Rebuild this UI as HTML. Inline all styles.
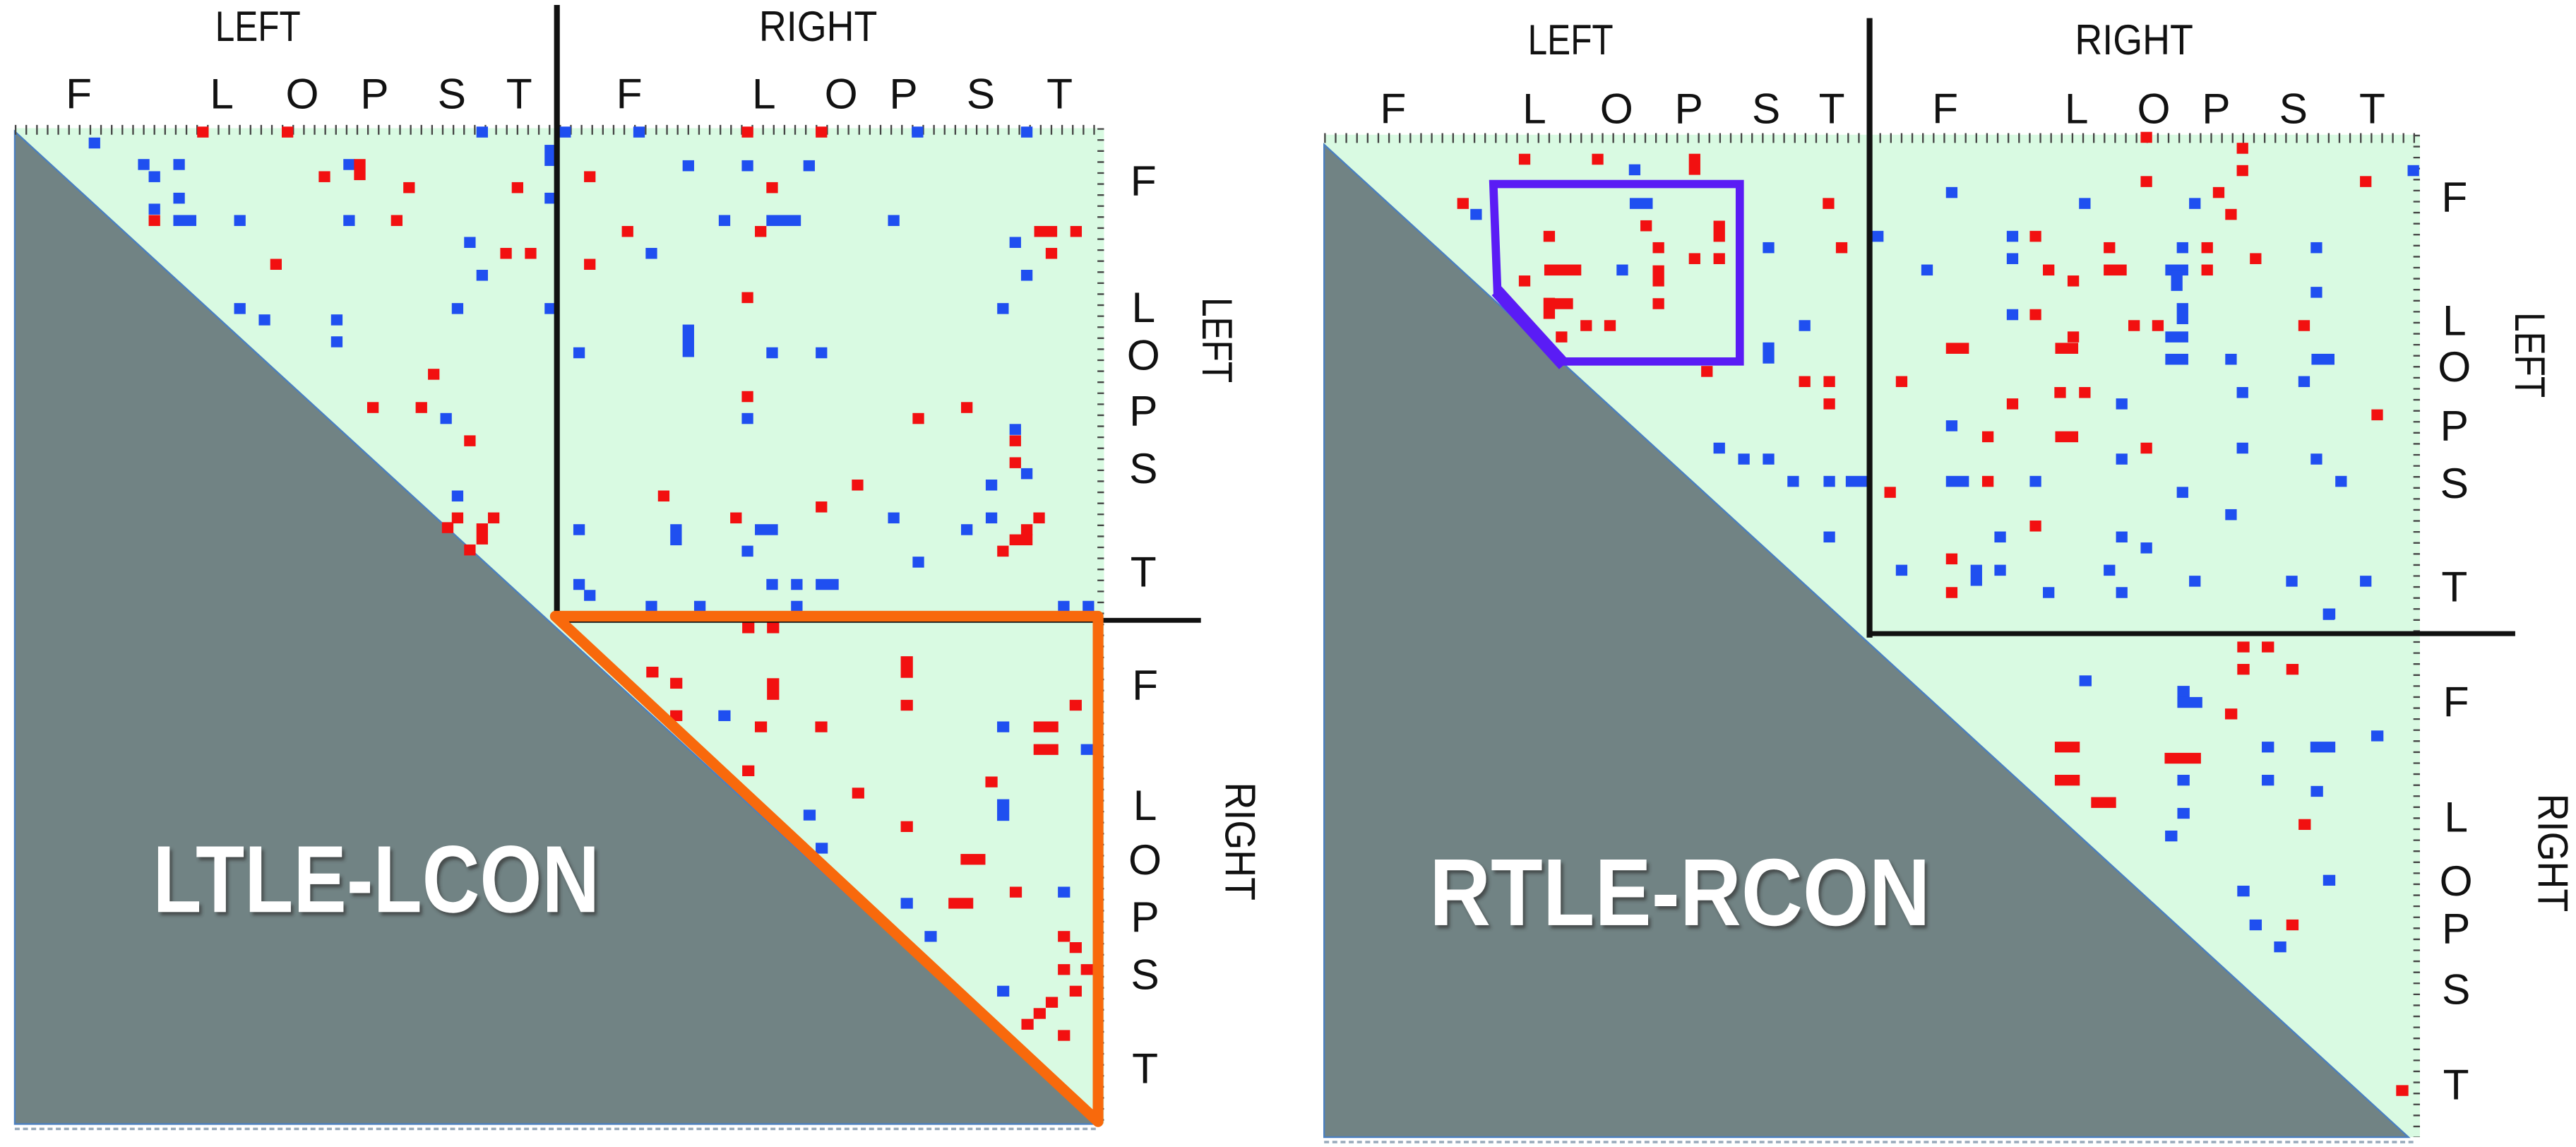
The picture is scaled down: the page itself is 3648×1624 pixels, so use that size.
<!DOCTYPE html>
<html><head><meta charset="utf-8"><style>
html,body{margin:0;padding:0;background:#fff;}
svg{display:block}
.r{fill:#f21010}.b{fill:#1f4ff0}
.a{width:14px;height:27px}.t{height:52px}.w{width:28px}
.c{width:27px;height:31px}.ct{height:62px}.cw{width:55px}.cw3{width:80px}
.lab{font-family:"Liberation Sans",sans-serif;font-size:26px;fill:#111;text-anchor:middle}
.big{font-family:"Liberation Sans",sans-serif;font-weight:bold;font-size:58px;fill:#fff}
</style></head><body>
<svg width="3648" height="1624" viewBox="0 0 1568 698" preserveAspectRatio="none" xmlns="http://www.w3.org/2000/svg">
<defs><filter id="sh" x="-10%" y="-20%" width="130%" height="150%"><feDropShadow dx="1.5" dy="2" stdDeviation="1" flood-color="#333" flood-opacity="0.7"/></filter></defs>
<!-- LEFT PANEL -->
<rect x="9" y="78" width="663" height="606" fill="#d9fae2"/>
<polygon points="9,80 668,684 9,684" fill="#718384" stroke="#4a7fc0" stroke-width="1"/>
<line x1="9" y1="79" x2="672" y2="79" stroke="#444" stroke-width="6" stroke-dasharray="1 5.5"/>
<line x1="670" y1="78" x2="670" y2="684" stroke="#444" stroke-width="4" stroke-dasharray="1 5.7"/>
<line x1="9" y1="687" x2="668" y2="687" stroke="#9ab" stroke-width="1.5" stroke-dasharray="3 2"/>
<g transform="scale(0.5,0.2469)">
<rect class="a r" x="240" y="312"/><rect class="a r" x="343" y="312"/><rect class="a b" x="580" y="312"/><rect class="a b" x="681" y="312"/><rect class="a b" x="771" y="312"/><rect class="a b" x="1110" y="312"/><rect class="a b" x="1243" y="312"/><rect class="a r" x="903" y="312"/><rect class="a r" x="993" y="312"/>
<rect class="a b" x="108" y="339"/><rect class="a b" x="168" y="392"/><rect class="a b" x="211" y="392"/><rect class="a b" x="181" y="422"/><rect class="a b" x="418" y="392"/><rect class="a r t" x="431" y="392"/><rect class="a r" x="388" y="422"/><rect class="a r" x="491" y="449"/><rect class="a r" x="623" y="449"/><rect class="a b t" x="663" y="357"/><rect class="a b" x="211" y="475"/><rect class="a b" x="181" y="502"/><rect class="a r" x="181" y="530"/><rect class="a b w" x="211" y="530"/><rect class="a b" x="285" y="530"/><rect class="a b" x="418" y="530"/><rect class="a r" x="476" y="530"/><rect class="a b" x="565" y="584"/><rect class="a r" x="609" y="611"/><rect class="a r" x="639" y="611"/><rect class="a r" x="329" y="638"/><rect class="a b" x="580" y="665"/><rect class="a b" x="663" y="475"/>
<rect class="a b" x="285" y="747"/><rect class="a b" x="315" y="775"/><rect class="a b" x="403" y="775"/><rect class="a b" x="403" y="829"/><rect class="a b" x="550" y="747"/><rect class="a b" x="663" y="747"/>
<rect class="a r" x="521" y="909"/><rect class="a r" x="447" y="991"/><rect class="a r" x="506" y="991"/><rect class="a b" x="536" y="1018"/><rect class="a r" x="565" y="1073"/><rect class="a b" x="550" y="1209"/><rect class="a r" x="550" y="1263"/><rect class="a r" x="594" y="1263"/><rect class="a r t" x="580" y="1290"/><rect class="a r" x="538" y="1287"/><rect class="a r" x="565" y="1342"/>
<rect class="a b" x="831" y="395"/><rect class="a b" x="903" y="395"/><rect class="a b" x="978" y="395"/><rect class="a r" x="711" y="422"/><rect class="a r" x="933" y="449"/><rect class="a b" x="875" y="530"/><rect class="a b" x="933" y="530" style="width:42px"/><rect class="a b" x="1081" y="530"/><rect class="a r" x="757" y="557"/><rect class="a r" x="919" y="557"/><rect class="a r w" x="1259" y="557"/><rect class="a r" x="1303" y="557"/><rect class="a b" x="786" y="611"/><rect class="a b" x="1229" y="584"/><rect class="a r" x="1273" y="611"/><rect class="a r" x="711" y="638"/><rect class="a b" x="1243" y="665"/><rect class="a r" x="903" y="720"/><rect class="a b" x="1214" y="747"/><rect class="a b" x="831" y="800" style="height:80px"/><rect class="a b" x="698" y="856"/><rect class="a b" x="933" y="856"/><rect class="a b" x="993" y="856"/><rect class="a r" x="903" y="964"/><rect class="a b" x="903" y="1018"/><rect class="a r" x="1111" y="1018"/><rect class="a r" x="1170" y="991"/><rect class="a b" x="1229" y="1045"/><rect class="a r" x="1229" y="1073"/><rect class="a r" x="1229" y="1127"/><rect class="a b" x="1243" y="1154"/><rect class="a r" x="1037" y="1182"/><rect class="a b" x="1200" y="1182"/><rect class="a r" x="801" y="1209"/><rect class="a r" x="993" y="1236"/><rect class="a r" x="889" y="1263"/><rect class="a b" x="1081" y="1263"/><rect class="a b" x="1200" y="1263"/><rect class="a r" x="1258" y="1263"/><rect class="a b" x="698" y="1292"/><rect class="a b t" x="816" y="1292"/><rect class="a b w" x="919" y="1292"/><rect class="a b" x="1170" y="1292"/><rect class="a r" x="1243" y="1292"/><rect class="a r w" x="1229" y="1317"/><rect class="a b" x="903" y="1345"/><rect class="a r" x="1214" y="1345"/><rect class="a b" x="1111" y="1372"/><rect class="a b" x="698" y="1427"/><rect class="a b" x="711" y="1454"/><rect class="a b" x="933" y="1427"/><rect class="a b" x="963" y="1427"/><rect class="a b w" x="993" y="1427"/><rect class="a b" x="786" y="1481"/><rect class="a b" x="845" y="1481"/><rect class="a b" x="963" y="1481"/><rect class="a b" x="1288" y="1481"/><rect class="a b" x="1318" y="1481"/>
</g>
<g transform="translate(335.3,365.4) scale(0.2741,0.2122)">
<rect class="c r" x="425" y="63"/><rect class="c r" x="480" y="63"/><rect class="c r" x="212" y="190"/><rect class="c r" x="265" y="222"/><rect class="c r ct" x="480" y="223"/><rect class="c r ct" x="777" y="160"/><rect class="c r" x="777" y="285"/><rect class="c r" x="1152" y="285"/><rect class="c r" x="265" y="315"/><rect class="c b" x="372" y="315"/><rect class="c r" x="453" y="347"/><rect class="c r" x="587" y="347"/><rect class="c b" x="991" y="347"/><rect class="c r cw" x="1072" y="347"/><rect class="c r cw" x="1072" y="412"/><rect class="c b" x="1177" y="412"/><rect class="c r" x="425" y="473"/><rect class="c r" x="965" y="505"/><rect class="c r" x="669" y="537"/><rect class="c b" x="561" y="600"/><rect class="c b ct" x="991" y="570"/><rect class="c r" x="777" y="633"/><rect class="c b" x="588" y="695"/><rect class="c r cw" x="910" y="727"/><rect class="c r" x="1019" y="821"/><rect class="c b" x="1126" y="821"/><rect class="c b" x="777" y="853"/><rect class="c r cw" x="883" y="853"/><rect class="c b" x="830" y="948"/><rect class="c r" x="1126" y="948"/><rect class="c r" x="1152" y="980"/><rect class="c r" x="1126" y="1043"/><rect class="c r" x="1177" y="1043"/><rect class="c b" x="991" y="1105"/><rect class="c r" x="1152" y="1105"/><rect class="c r" x="1099" y="1137"/><rect class="c r" x="1072" y="1169"/><rect class="c r" x="1045" y="1200"/><rect class="c r" x="1126" y="1232"/>
</g>
<line x1="339" y1="3" x2="339" y2="377" stroke="#111" stroke-width="3.5"/>
<line x1="339" y1="377.5" x2="731" y2="377.5" stroke="#111" stroke-width="3"/>
<polygon points="338,375 668.4,375 668.4,682.6" fill="none" stroke="#f8690c" stroke-width="6.5" stroke-linejoin="round"/>
<text class="lab" x="157" y="25" textLength="52" lengthAdjust="spacingAndGlyphs">LEFT</text>
<text class="lab" x="498" y="25" textLength="72" lengthAdjust="spacingAndGlyphs">RIGHT</text>
<g class="lab"><text x="48" y="66">F</text><text x="135" y="66">L</text><text x="184" y="66">O</text><text x="228" y="66">P</text><text x="275" y="66">S</text><text x="316" y="66">T</text><text x="383" y="66">F</text><text x="465" y="66">L</text><text x="512" y="66">O</text><text x="550" y="66">P</text><text x="597" y="66">S</text><text x="645" y="66">T</text>
<text x="696" y="119">F</text><text x="696" y="196">L</text><text x="696" y="225">O</text><text x="696" y="259">P</text><text x="696" y="294">S</text><text x="696" y="357">T</text>
<text x="697" y="426">F</text><text x="697" y="499">L</text><text x="697" y="532">O</text><text x="697" y="567">P</text><text x="697" y="602">S</text><text x="697" y="659">T</text></g>
<text class="lab" transform="translate(732,207) rotate(90)" textLength="52" lengthAdjust="spacingAndGlyphs">LEFT</text>
<text class="lab" transform="translate(746,512) rotate(90)" textLength="72" lengthAdjust="spacingAndGlyphs">RIGHT</text>
<text class="big" x="93" y="555" textLength="272" lengthAdjust="spacingAndGlyphs" filter="url(#sh)">LTLE-LCON</text>

<!-- RIGHT PANEL -->
<rect x="806" y="82" width="667" height="610" fill="#d9fae2"/>
<polygon points="806,88 1466,692 806,692" fill="#718384" stroke="#4a7fc0" stroke-width="1"/>
<line x1="806" y1="84" x2="1473" y2="84" stroke="#444" stroke-width="6" stroke-dasharray="1 5.5"/>
<line x1="1471" y1="82" x2="1471" y2="692" stroke="#444" stroke-width="4" stroke-dasharray="1 5.7"/>
<line x1="806" y1="695" x2="1470" y2="695" stroke="#9ab" stroke-width="1.5" stroke-dasharray="3 2"/>
<g transform="translate(784,0) scale(0.5,0.2469)">
<rect class="a r" x="1038" y="325"/>
<rect class="a r" x="281" y="379"/><rect class="a r" x="370" y="379"/><rect class="a b" x="415" y="405"/><rect class="a r t" x="488" y="379"/><rect class="a r" x="1155" y="352"/><rect class="a r" x="1155" y="407"/><rect class="a b" x="1363" y="407"/><rect class="a r" x="1038" y="434"/><rect class="a r" x="1305" y="434"/><rect class="a b" x="801" y="461"/><rect class="a r" x="1126" y="461"/><rect class="a r" x="206" y="488"/><rect class="a b" x="222" y="515"/><rect class="a b w" x="416" y="488"/><rect class="a r" x="651" y="488"/><rect class="a b" x="963" y="488"/><rect class="a b" x="1097" y="488"/><rect class="a r" x="1141" y="515"/><rect class="a r" x="311" y="569"/><rect class="a r" x="429" y="543"/><rect class="a r t" x="518" y="544"/><rect class="a b" x="711" y="569"/><rect class="a b" x="875" y="569"/><rect class="a r" x="903" y="569"/><rect class="a b" x="578" y="597"/><rect class="a r" x="667" y="597"/><rect class="a r" x="444" y="597"/><rect class="a r" x="993" y="597"/><rect class="a b" x="1082" y="597"/><rect class="a r" x="1112" y="597"/><rect class="a b" x="1245" y="597"/><rect class="a r" x="488" y="624"/><rect class="a r" x="518" y="624"/><rect class="a b" x="875" y="624"/><rect class="a r" x="1171" y="624"/><rect class="a r" x="312" y="652" style="width:45px"/><rect class="a b" x="400" y="652"/><rect class="a r t" x="444" y="654"/><rect class="a b" x="771" y="652"/><rect class="a r" x="919" y="652"/><rect class="a r w" x="993" y="652"/><rect class="a b w" x="1068" y="652"/><rect class="a b t" x="1075" y="665"/><rect class="a r" x="1112" y="652"/><rect class="a r" x="281" y="679"/><rect class="a r" x="949" y="679"/><rect class="a b" x="1245" y="707"/><rect class="a r w" x="319" y="735"/><rect class="a r t" x="311" y="734"/><rect class="a r" x="444" y="735"/><rect class="a b" x="875" y="762"/><rect class="a r" x="903" y="762"/><rect class="a b t" x="1082" y="747"/><rect class="a r" x="356" y="789"/><rect class="a r" x="385" y="789"/><rect class="a r" x="326" y="817"/><rect class="a b" x="622" y="789"/><rect class="a r" x="1023" y="789"/><rect class="a r" x="1052" y="789"/><rect class="a r" x="1230" y="789"/><rect class="a b t" x="578" y="844"/><rect class="a r" x="949" y="817"/><rect class="a r w" x="934" y="845"/><rect class="a r w" x="801" y="845"/><rect class="a b w" x="1068" y="817"/><rect class="a b w" x="1068" y="872"/><rect class="a b" x="1141" y="872"/><rect class="a b w" x="1246" y="872"/><rect class="a r" x="503" y="902"/><rect class="a r" x="622" y="927"/><rect class="a r" x="652" y="927"/><rect class="a r" x="740" y="927"/><rect class="a b" x="1230" y="927"/><rect class="a r" x="933" y="954"/><rect class="a r" x="963" y="954"/><rect class="a b" x="1155" y="954"/><rect class="a r" x="652" y="982"/><rect class="a r" x="875" y="982"/><rect class="a b" x="1008" y="982"/><rect class="a r" x="1319" y="1009"/><rect class="a b" x="801" y="1036"/><rect class="a r" x="845" y="1063"/><rect class="a r w" x="934" y="1063"/><rect class="a b" x="518" y="1091"/><rect class="a r" x="1038" y="1091"/><rect class="a b" x="1155" y="1091"/><rect class="a b" x="548" y="1118"/><rect class="a b" x="578" y="1118"/><rect class="a b" x="1008" y="1118"/><rect class="a b" x="1245" y="1118"/><rect class="a b" x="608" y="1173"/><rect class="a b" x="652" y="1173"/><rect class="a b w" x="679" y="1173"/><rect class="a b w" x="801" y="1173"/><rect class="a r" x="845" y="1173"/><rect class="a b" x="903" y="1173"/><rect class="a b" x="1275" y="1173"/><rect class="a r" x="726" y="1200"/><rect class="a b" x="1082" y="1200"/><rect class="a b" x="1141" y="1255"/><rect class="a r" x="903" y="1283"/><rect class="a b" x="652" y="1310"/><rect class="a b" x="860" y="1310"/><rect class="a b" x="1008" y="1310"/><rect class="a b" x="1038" y="1337"/><rect class="a r" x="801" y="1364"/><rect class="a b" x="740" y="1392"/><rect class="a b t" x="831" y="1392"/><rect class="a b" x="860" y="1392"/><rect class="a b" x="993" y="1392"/><rect class="a b" x="1097" y="1419"/><rect class="a b" x="1215" y="1419"/><rect class="a b" x="1305" y="1419"/><rect class="a r" x="801" y="1447"/><rect class="a b" x="919" y="1447"/><rect class="a b" x="1008" y="1447"/><rect class="a b" x="1260" y="1501"/>
</g>
<g transform="translate(1134.7,365.4) scale(0.2763,0.2122)">
<rect class="c b" x="1011" y="23"/><rect class="c r" x="822" y="118"/><rect class="c r" x="876" y="118"/><rect class="c r" x="822" y="182"/><rect class="c r" x="930" y="182"/><rect class="c b" x="474" y="215"/><rect class="c b ct" x="690" y="245"/><rect class="c b cw" x="690" y="277"/><rect class="c r" x="795" y="310"/><rect class="c b" x="1117" y="373"/><rect class="c r cw" x="420" y="405"/><rect class="c b" x="876" y="405"/><rect class="c b cw" x="983" y="405"/><rect class="c r cw3" x="662" y="437"/><rect class="c r cw" x="420" y="500"/><rect class="c b" x="690" y="500"/><rect class="c b" x="876" y="500"/><rect class="c b" x="984" y="532"/><rect class="c r cw" x="500" y="564"/><rect class="c b" x="690" y="595"/><rect class="c r" x="957" y="627"/><rect class="c b" x="663" y="660"/><rect class="c b" x="1011" y="787"/><rect class="c b" x="822" y="818"/><rect class="c b" x="849" y="915"/><rect class="c r" x="930" y="915"/><rect class="c b" x="903" y="978"/><rect class="c r" x="1172" y="1390"/>
</g>
<line x1="1138" y1="11" x2="1138" y2="388" stroke="#111" stroke-width="3.5"/>
<line x1="1137" y1="385.6" x2="1531" y2="385.6" stroke="#111" stroke-width="3"/>
<polygon points="909,112 1059,112 1059,220 951.5,220 911.5,178" fill="none" stroke="#5a1cf5" stroke-width="5"/>
<line x1="911" y1="177" x2="952" y2="222" stroke="#5a1cf5" stroke-width="8"/>
<text class="lab" x="956" y="33" textLength="52" lengthAdjust="spacingAndGlyphs">LEFT</text>
<text class="lab" x="1299" y="33" textLength="72" lengthAdjust="spacingAndGlyphs">RIGHT</text>
<g class="lab"><text x="848" y="75">F</text><text x="934" y="75">L</text><text x="984" y="75">O</text><text x="1028" y="75">P</text><text x="1075" y="75">S</text><text x="1115" y="75">T</text><text x="1184" y="75">F</text><text x="1264" y="75">L</text><text x="1311" y="75">O</text><text x="1349" y="75">P</text><text x="1396" y="75">S</text><text x="1444" y="75">T</text>
<text x="1494" y="129">F</text><text x="1494" y="204">L</text><text x="1494" y="232">O</text><text x="1494" y="268">P</text><text x="1494" y="303">S</text><text x="1494" y="366">T</text>
<text x="1495" y="436">F</text><text x="1495" y="506">L</text><text x="1495" y="545">O</text><text x="1495" y="574">P</text><text x="1495" y="611">S</text><text x="1495" y="669">T</text></g>
<text class="lab" transform="translate(1531,216) rotate(90)" textLength="52" lengthAdjust="spacingAndGlyphs">LEFT</text>
<text class="lab" transform="translate(1545,519) rotate(90)" textLength="72" lengthAdjust="spacingAndGlyphs">RIGHT</text>
<text class="big" x="870" y="563" textLength="305" lengthAdjust="spacingAndGlyphs" filter="url(#sh)">RTLE-RCON</text>
</svg>
</body></html>
